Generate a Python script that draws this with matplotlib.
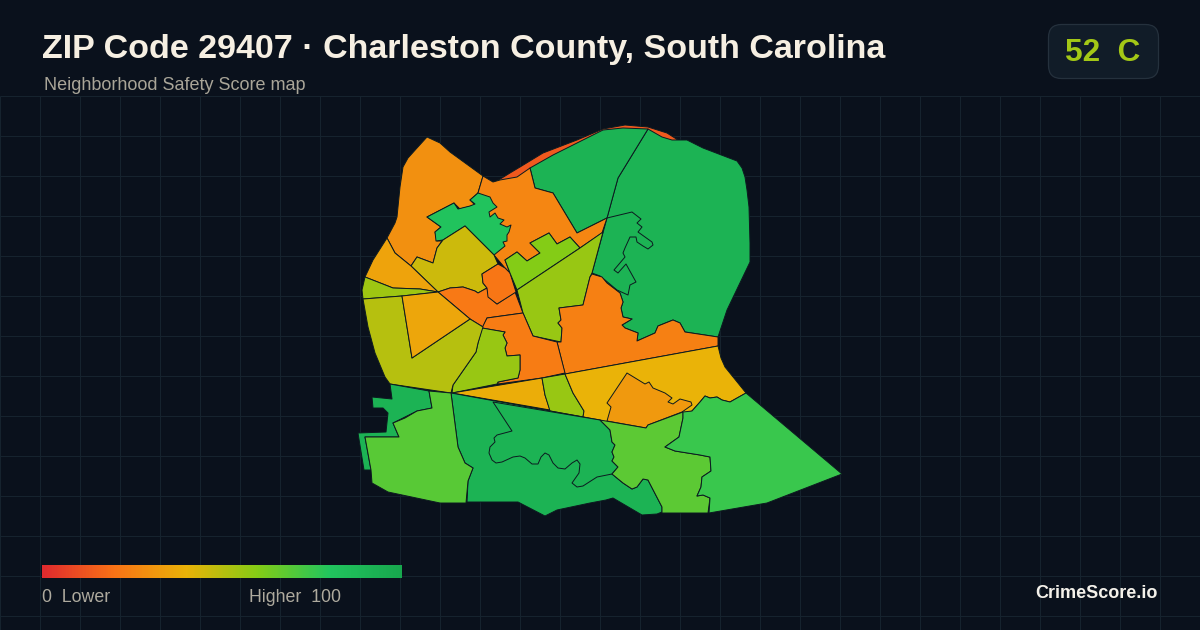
import numpy as np
import matplotlib
matplotlib.use("Agg")
import matplotlib.pyplot as plt
from matplotlib.colors import LinearSegmentedColormap
from matplotlib.patches import FancyBboxPatch, Polygon

title = "ZIP Code 29407 · Charleston County, South Carolina"
subtitle = "Neighborhood Safety Score map"
score_label = "52  C"
brand = "CrimeScore.io"
legend_low = "0  Lower"
legend_high = "Higher  100"

# block group outlines in image pixels, with their safety score
strip = [(497,181),(510,173),(520,167),(543,153),(577,140),(603,129),(625,125),(648,127),(667,133),(678,140),(672,141),(662,138),(648,130),(610,130),(583,141),(553,156),(530,169),(517,178),(500,181)]
ne_west = [(530,168),(553,155),(583,140),(603,130),(623,128),(648,129),(618,178),(607,218),(577,233),(553,193),(535,188)]
ne_east = [(648,129),(662,137),(672,140),(687,140),(703,148),(737,161),(742,168),(745,177),(747,190),(749,207),(750,243),(750,262),(738,287),(727,310),(718,337),(685,332),(680,323),(673,320),(658,326),(655,333),(637,341),(638,333),(625,328),(622,325),(632,319),(623,317),(621,308),(623,302),(620,293),(607,283),(602,277),(592,274),(603,232),(607,218),(618,178)]
ne_inner = [(607,218),(632,212),(641,219),(637,223),(642,227),(638,232),(652,242),(653,245),(648,249),(643,246),(637,242),(636,237),(630,237),(625,248),(623,253),(625,257),(614,270),(618,273),(626,264),(636,282),(630,285),(628,295),(617,290),(605,280),(600,276),(592,273)]
nw_peak = [(427,137),(440,143),(450,152),(483,176),(478,193),(470,200),(475,205),(460,209),(454,203),(427,217),(441,227),(435,232),(437,241),(442,241),(437,248),(433,263),(417,257),(411,266),(395,253),(387,238),(395,223),(397,217),(400,187),(403,167),(408,158),(417,148)]
north_mid = [(483,176),(493,182),(500,180),(517,177),(530,168),(535,188),(553,193),(577,233),(607,218),(602,233),(580,248),(570,237),(557,244),(549,233),(530,243),(540,253),(527,261),(517,252),(505,260),(510,273),(505,268),(494,255),(478,193)]
inner_green = [(427,217),(454,203),(458,209),(470,206),(475,204),(470,200),(478,193),(490,197),(493,203),(497,207),(489,212),(490,217),(495,213),(498,218),(504,220),(500,224),(507,227),(511,225),(509,232),(507,235),(507,241),(503,242),(505,246),(494,255),(465,226),(443,240),(436,241),(435,232),(441,227)]
olive_mid = [(465,226),(494,255),(498,264),(482,274),(483,283),(487,288),(478,293),(475,291),(463,287),(450,288),(438,292),(411,266),(417,257),(433,263),(437,248),(443,240)]
west_amber = [(387,238),(395,253),(411,266),(438,292),(420,289),(393,288),(365,277),(373,260)]
west_sliver = [(365,277),(393,288),(420,289),(438,292),(402,296),(363,299),(362,290)]
center_left = [(438,292),(450,288),(463,287),(475,291),(478,293),(487,288),(489,297),(497,304),(515,292),(523,313),(487,318),(483,327),(470,319)]
small_red = [(482,274),(498,264),(505,268),(510,273),(516,292),(497,304),(488,297),(487,288),(483,283)]
lime_north = [(505,260),(517,252),(527,261),(540,253),(530,243),(549,233),(557,244),(570,237),(580,248),(517,290),(510,273)]
lime_mid = [(517,290),(580,248),(603,232),(592,273),(590,277),(583,305),(559,308),(561,320),(558,323),(562,328),(561,342),(533,336),(523,313)]
center_south = [(482,328),(487,318),(523,313),(533,336),(557,342),(565,373),(542,378),(498,384),(498,382),(518,378),(520,370),(520,355),(507,356),(505,348),(507,343),(503,335),(505,332)]
center_east = [(590,277),(583,305),(559,308),(561,320),(558,323),(562,328),(561,342),(557,342),(565,374),(718,346),(718,337),(685,332),(680,323),(673,320),(658,326),(655,333),(637,341),(638,333),(625,328),(622,325),(632,319),(623,317),(621,308),(623,302),(620,293),(607,283),(602,277),(592,274)]
lime_south = [(482,328),(505,332),(503,335),(507,343),(505,348),(507,356),(520,355),(520,370),(518,378),(498,382),(497,384),(452,393),(453,385),(476,352),(478,343)]
olive_west = [(363,299),(402,296),(412,358),(470,319),(483,327),(478,343),(476,352),(453,385),(451,393),(390,384),(385,377),(375,353),(368,327)]
amber_west = [(402,296),(438,292),(470,319),(412,358)]
wedge = [(452,393),(542,378),(545,395),(550,410)]
lime_small = [(542,378),(565,374),(573,393),(584,411),(583,417),(550,411),(545,395)]
gold_east = [(565,374),(718,346),(721,358),(725,367),(746,393),(730,402),(722,400),(717,397),(710,398),(705,396),(700,402),(692,411),(647,428),(600,421),(583,417),(584,411),(573,393)]
amber_east = [(627,373),(645,384),(649,382),(653,388),(665,393),(672,398),(668,402),(673,404),(680,399),(691,402),(692,405),(682,412),(648,425),(646,428),(607,421),(611,407),(607,403)]
sw_green = [(390,384),(429,391),(432,408),(417,411),(393,423),(399,437),(365,437),(371,470),(364,470),(358,433),(386,432),(388,413),(383,408),(373,408),(372,397),(392,399)]
sw_lime = [(429,391),(451,393),(458,447),(465,463),(473,468),(468,481),(466,503),(440,503),(388,492),(372,483),(371,470),(365,437),(399,437),(393,423),(405,418),(417,411),(432,408)]
south_outer = [(451,393),(600,420),(610,430),(612,442),(615,445),(612,452),(614,457),(612,461),(618,467),(612,474),(623,483),(632,489),(637,487),(643,479),(648,480),(662,507),(662,512),(657,514),(642,515),(613,498),(606,500),(590,503),(557,510),(545,516),(518,502),(467,502),(468,481),(473,468),(465,463),(458,447)]
south_river = [(493,402),(512,431),(497,435),(494,438),(495,442),(490,447),(489,453),(492,460),(496,463),(502,462),(513,457),(520,456),(525,458),(532,464),(538,464),(541,457),(545,453),(549,455),(553,463),(558,468),(565,469),(572,463),(577,460),(580,464),(579,473),(572,483),(577,487),(583,486),(597,477),(612,474),(618,467),(612,461),(614,457),(612,452),(615,445),(612,442),(610,430),(600,420)]
se_lime = [(600,420),(646,428),(648,425),(683,412),(683,418),(679,437),(665,447),(675,451),(700,455),(710,457),(711,471),(702,477),(701,487),(697,496),(703,495),(710,498),(708,513),(662,513),(662,507),(648,480),(643,479),(637,487),(632,489),(623,483),(612,474),(618,467),(612,461),(614,457),(612,452),(615,445),(612,442),(610,430)]
se_point = [(746,393),(842,474),(767,503),(709,513),(710,498),(703,495),(697,496),(701,487),(702,477),(711,471),(710,457),(700,455),(675,451),(665,447),(679,437),(683,418),(683,412),(692,411),(700,402),(705,396),(710,398),(717,397),(722,400),(730,402)]

# drawn in this order, later ones sit on top
tracts = [strip, ne_east, ne_west, ne_inner, nw_peak, north_mid, inner_green, olive_mid, west_amber,
          west_sliver, center_left, small_red, lime_north, lime_mid, center_east, center_south, lime_south,
          olive_west, amber_west, wedge, lime_small, gold_east, amber_east, south_outer, south_river,
          sw_green, sw_lime, se_lime, se_point]
scores = [13, 92, 92, 92, 29, 26, 81, 46, 35,
          55, 22, 21, 60, 56, 24, 23, 56,
          50, 36, 38, 56, 40, 32, 92, 92,
          92, 69, 68, 75]

stops = [0, 20, 40, 60, 80, 100]
stop_colors = ["#e02a2e", "#f97316", "#eab308", "#84cc16", "#22c55e", "#18a84e"]

bg = "#0a111c"
cmap = LinearSegmentedColormap.from_list("safety", [(s / 100, c) for s, c in zip(stops, stop_colors)])

plt.rcParams["font.family"] = ["Liberation Sans", "DejaVu Sans"]

fig = plt.figure(figsize=(12, 6.3), dpi=100, facecolor=bg)
ax = fig.add_axes([0, 0, 1, 1])
ax.set_facecolor(bg)

# faint grid, header stays clear
ax.vlines(np.arange(0, 1200, 40), 96, 630, color="#16232e", lw=0.8, zorder=1)
ax.hlines(np.arange(96, 630, 40), 0, 1200, color="#16232e", lw=0.8, zorder=1)

for outline, score in zip(tracts, scores):
    ax.add_patch(Polygon(outline, closed=True, facecolor=cmap(score / 100), edgecolor="#0c1a20",
                         lw=0.7, joinstyle="round", zorder=2))

# colour legend
gradient = np.linspace(0, 100, 360).reshape(1, -1)
ax.imshow(gradient, cmap=cmap, vmin=0, vmax=100, extent=(42, 402, 578, 565), aspect="auto", zorder=3)

ax.set_xlim(0, 1200)
ax.set_ylim(630, 0)
ax.axis("off")

ax.text(42, 49.5, title, color="#f6efe2", fontsize=24.45, fontweight="bold", va="center", ha="left")
ax.text(44, 85.5, subtitle, color="#a9a598", fontsize=13, va="center", ha="left")

badge = FancyBboxPatch((1048.5, 24.5), 110, 54, boxstyle="round,pad=0,rounding_size=13",
                       facecolor="#111c28", edgecolor="#25313d", lw=0.9, zorder=3)
ax.add_patch(badge)
ax.text(1103, 53, score_label, color="#a3c716", fontsize=22.7, fontweight="bold",
        va="center", ha="center", zorder=4)

ax.text(42, 597, legend_low, color="#aeaa9e", fontsize=12.8, va="center", ha="left")
ax.text(249, 597, legend_high, color="#aeaa9e", fontsize=12.8, va="center", ha="left")
ax.text(1158, 593.5, brand, color="#f4f1ea", fontsize=13, fontweight="bold", va="center", ha="right")

fig.savefig("out.png", dpi=100, facecolor=bg)
